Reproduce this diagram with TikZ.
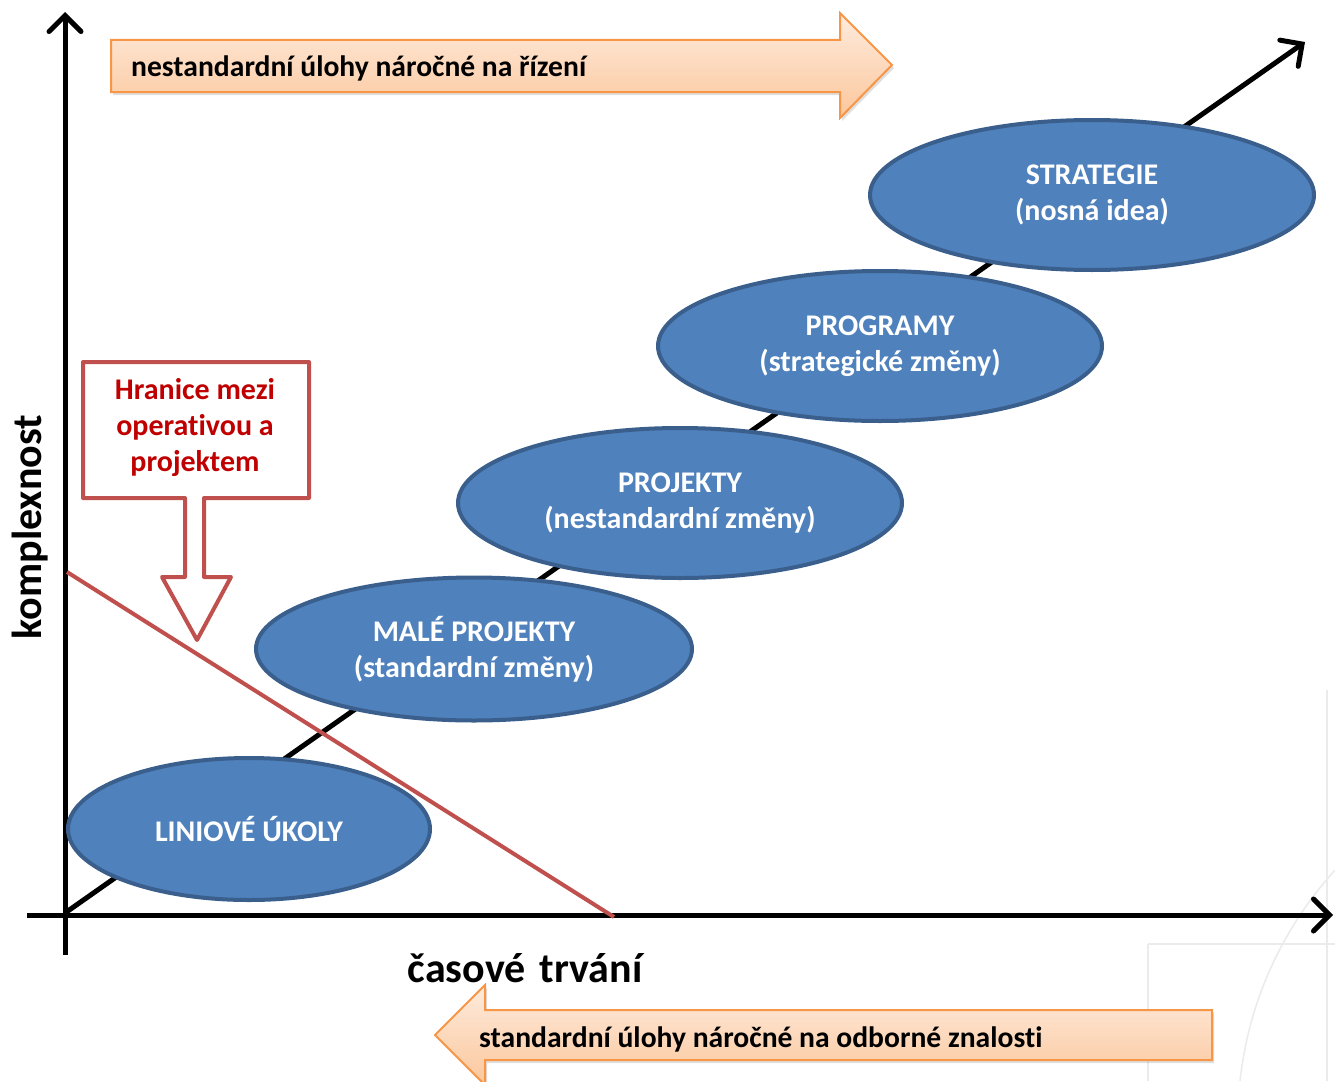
\documentclass[tikz,border=0pt]{standalone}
\usepackage{fontspec}
\setmainfont{Carlito}[RawFeature={-liga}]
\usetikzlibrary{shapes.geometric,arrows.meta,shadows}
\definecolor{ellfill}{HTML}{4F81BD}
\definecolor{elldraw}{HTML}{3A5F8C}
\definecolor{redline}{HTML}{C0504D}
\definecolor{redtext}{HTML}{C00000}
\definecolor{orfillA}{HTML}{FEEBDD}
\definecolor{orfillB}{HTML}{FBC79C}
\definecolor{ordraw}{HTML}{F79646}
\tikzset{
  stage/.style={ellipse, fill=ellfill, draw=elldraw, line width=4pt, text=white,
    font=\bfseries\fontsize{30}{36}\selectfont, align=center, inner sep=0pt},
  axisline/.style={line width=5pt, -{Straight Barb[length=16pt,width=32pt,line cap=round,line width=5pt]}},
  bandarrow/.style={draw=ordraw, line width=2pt, top color=orfillA, bottom color=orfillB,
    drop shadow={shadow xshift=2pt, shadow yshift=-3pt, opacity=0.25}},
  bandtext/.style={font=\bfseries\fontsize{29.6}{32}\selectfont, anchor=west, inner sep=0pt},
  axislabel/.style={font=\bfseries\fontsize{42}{46}\selectfont, inner sep=0pt},
  faint/.style={draw=black!8, line width=1.5pt}
}
\begin{document}
\begin{tikzpicture}[x=1pt,y=-1pt]
\useasboundingbox (0,0) rectangle (1335,1081);
\fill[white] (0,0) rectangle (1335,1081);

% faint background marks at the lower right
\draw[faint] (1327,690) -- (1327,1081);
\draw[faint] (1148,944) -- (1335,944);
\draw[faint] (1148,944) -- (1148,1081);
\draw[faint] (1240,1081) .. controls (1250,990) and (1290,920) .. (1335,870);

% axes and the growth diagonal
\coordinate (origin) at (65,913);
\coordinate (ybottom) at (65,955);
\coordinate (ytop) at (65,12);
\coordinate (xleft) at (27,915);
\coordinate (xright) at (1333,915);
\coordinate (diagtip) at (1305,42);
\draw[axisline] (ybottom) -- (ytop);
\draw[axisline] (xleft) -- (xright);
\draw[axisline] (origin) -- (diagtip);

% stages of change
\node[stage, minimum width=362pt, minimum height=142pt] (linie) at (249,829) {LINIOVÉ ÚKOLY};
\node[stage, minimum width=436pt, minimum height=143pt] (male) at (474,649) {MALÉ PROJEKTY\\(standardní změny)};
\node[stage, minimum width=444pt, minimum height=150pt] (projekty) at (680,503) {PROJEKTY\\(nestandardní změny)};
\node[stage, minimum width=444pt, minimum height=150pt] (programy) at (880,346) {PROGRAMY\\(strategické změny)};
\node[stage, minimum width=444pt, minimum height=150pt] (strategie) at (1092,195) {STRATEGIE\\(nosná idea)};

% boundary between operations and projects
\coordinate (bstart) at (67,572);
\coordinate (bend) at (614,917);
\draw[redline, line width=4pt] (bstart) -- (bend);

% callout with a downward arrow
\draw[redline, line width=4pt, fill=white, line join=round]
  (83,362) -- (309,362) -- (309,498) -- (204,498) -- (204,577) -- (231,577)
  -- (197,640) -- (162,577) -- (185,577) -- (185,498) -- (83,498) -- cycle;
\node[text=redtext, font=\bfseries\fontsize{30}{36}\selectfont, align=center] (hranice) at (195,428)
  {Hranice mezi\\operativou a\\projektem};

% band arrows
\path[bandarrow] (111,40) -- (840,40) -- (840,13) -- (892,65) -- (840,118) -- (840,92) -- (111,92) -- cycle;
\node[bandtext] (nestd) at (131,68) {nestandardní úlohy náročné na řízení};
\path[bandarrow] (1212,1010) -- (485,1010) -- (485,985) -- (435,1035) -- (485,1085) -- (485,1060) -- (1212,1060) -- cycle;
\node[bandtext] (std) at (479,1039) {standardní úlohy náročné na odborné znalosti};

% axis labels
\node[axislabel, rotate=90] (ylab) at (30,527) {komplexnost};
\node[axislabel] (xlab) at (525,968) {časové\,\,trvání};
\end{tikzpicture}
\end{document}
